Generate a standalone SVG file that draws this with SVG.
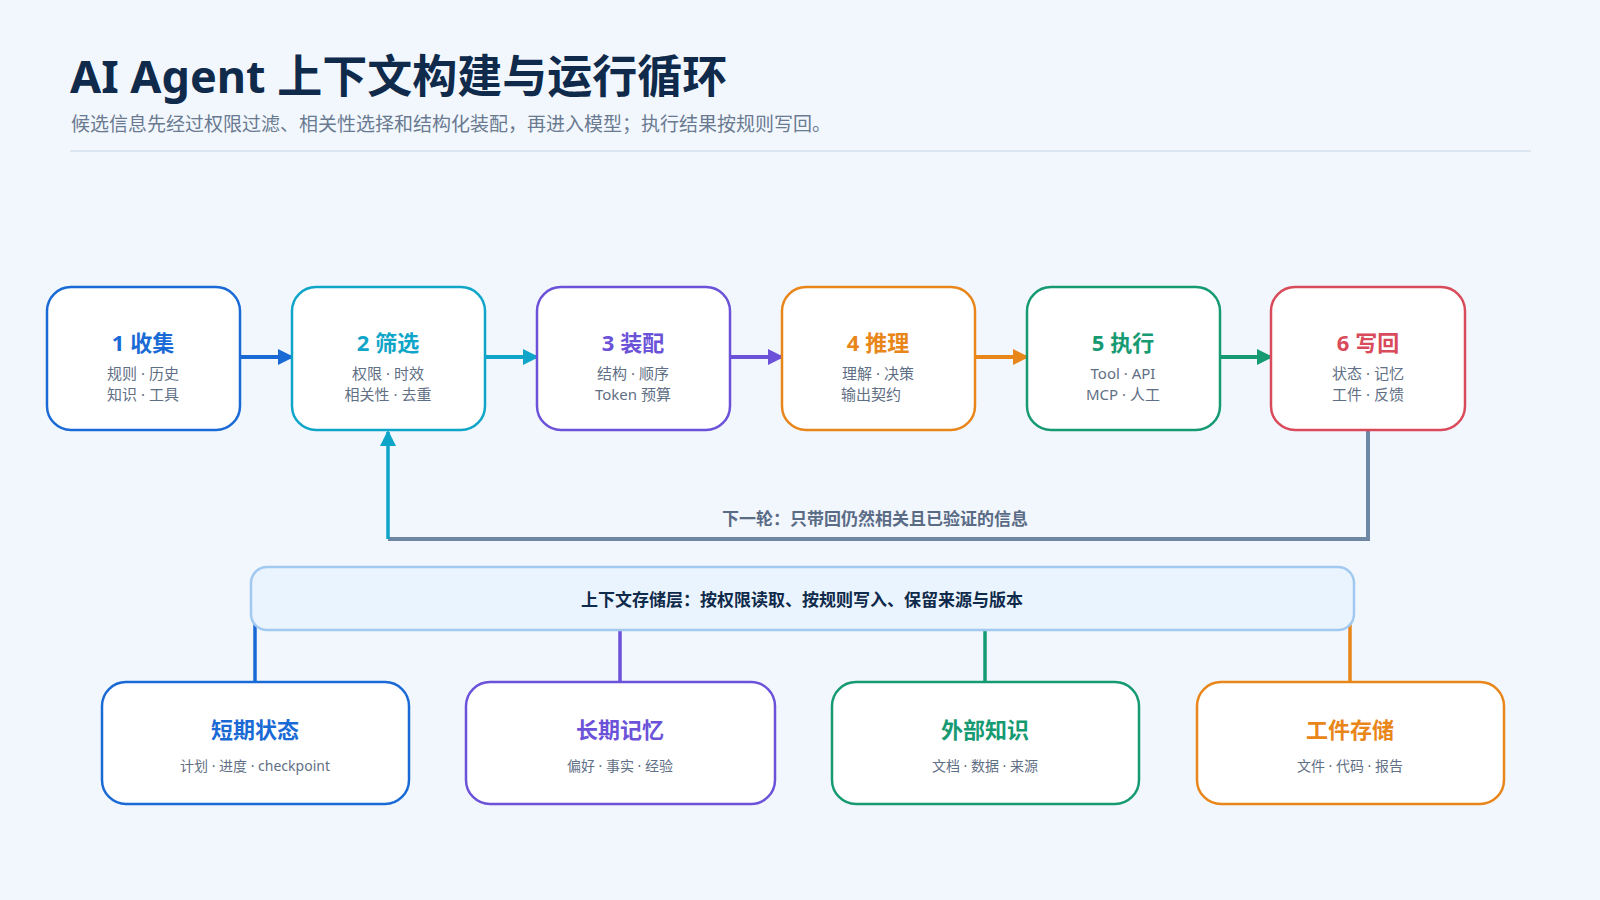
<svg xmlns="http://www.w3.org/2000/svg" width="1600" height="900" viewBox="0 0 1600 900">
<style>
text{font-family:"Noto Sans","Noto Sans CJK SC",sans-serif}
.t{font-size:22px;font-weight:700;text-anchor:middle}
.s{font-size:15px;fill:#5f6f85;text-anchor:middle}
.s2{font-size:14px;fill:#5f6f85;text-anchor:middle}
.n{fill:#fff;stroke-width:2.5}
.c{fill:none;stroke-width:4}
</style>
<defs>
<marker id="ab" markerWidth="10" markerHeight="10" refX="8" refY="5" orient="auto" markerUnits="userSpaceOnUse"><path d="M0,0L10,5L0,10z" fill="#1a6ad6"/></marker>
<marker id="ac" markerWidth="16" markerHeight="16" refX="14" refY="8" orient="auto" markerUnits="userSpaceOnUse"><path d="M0,0L16,8L0,16z" fill="#0ea5c8"/></marker>
<marker id="ap" markerWidth="16" markerHeight="16" refX="14" refY="8" orient="auto" markerUnits="userSpaceOnUse"><path d="M0,0L16,8L0,16z" fill="#6b52d8"/></marker>
<marker id="ao" markerWidth="16" markerHeight="16" refX="14" refY="8" orient="auto" markerUnits="userSpaceOnUse"><path d="M0,0L16,8L0,16z" fill="#e8861a"/></marker>
<marker id="ag" markerWidth="16" markerHeight="16" refX="14" refY="8" orient="auto" markerUnits="userSpaceOnUse"><path d="M0,0L16,8L0,16z" fill="#159a72"/></marker>
<marker id="abl" markerWidth="16" markerHeight="16" refX="14" refY="8" orient="auto" markerUnits="userSpaceOnUse"><path d="M0,0L16,8L0,16z" fill="#1a6ad6"/></marker>
</defs>
<rect width="1600" height="900" fill="#f2f7fe"/>
<text x="70" y="93" font-size="45" font-weight="700" fill="#0f2a4a">AI Agent 上下文构建与运行循环</text>
<text x="71" y="131" font-size="19" fill="#6a7a90">候选信息先经过权限过滤、相关性选择和结构化装配，再进入模型；执行结果按规则写回。</text>
<line x1="70" y1="151" x2="1531" y2="151" stroke="#d3e0ee" stroke-width="1.5"/>
<g id="connectors">
<path class="c" d="M240,357H292" stroke="#1a6ad6" marker-end="url(#abl)"/>
<path class="c" d="M485,357H537" stroke="#0ea5c8" marker-end="url(#ac)"/>
<path class="c" d="M730,357H782" stroke="#6b52d8" marker-end="url(#ap)"/>
<path class="c" d="M975,357H1027" stroke="#e8861a" marker-end="url(#ao)"/>
<path class="c" d="M1220,357H1271" stroke="#159a72" marker-end="url(#ag)"/>
<path class="c" d="M1368,430V539H388" stroke="#6e88a3" stroke-width="3.5"/>
<path d="M388,539V432" stroke="#0ea5c8" stroke-width="3.5" marker-end="url(#ac)"/>
<text x="875" y="525" font-size="17" font-weight="700" fill="#5a6b85" text-anchor="middle">下一轮：只带回仍然相关且已验证的信息</text>
<path d="M255,682V602" stroke="#1a6ad6" stroke-width="3.5" marker-end="url(#ab)"/>
<path d="M620,682V602" stroke="#6b52d8" stroke-width="3.5"/>
<path d="M985,682V602" stroke="#159a72" stroke-width="3.5"/>
<path d="M1350,682V602" stroke="#e8861a" stroke-width="3.5"/>
</g>
<g id="storage">
<rect x="251" y="567" width="1103" height="63" rx="16" fill="#eaf4fe" stroke="#a2c9f0" stroke-width="2.5"/>
<text x="802" y="606" font-size="17" font-weight="700" fill="#0f2a4a" text-anchor="middle">上下文存储层：按权限读取、按规则写入、保留来源与版本</text>
</g>
<g id="n1"><rect class="n" x="47" y="287" width="193" height="143" rx="24" stroke="#1a6ad6"/><text class="t" x="143" y="351" fill="#1a6ad6">1 收集</text><text class="s" x="143" y="379">规则 · 历史</text><text class="s" x="143" y="400">知识 · 工具</text></g>
<g id="n2"><rect class="n" x="292" y="287" width="193" height="143" rx="24" stroke="#0ea5c8"/><text class="t" x="388" y="351" fill="#0ea5c8">2 筛选</text><text class="s" x="388" y="379">权限 · 时效</text><text class="s" x="388" y="400">相关性 · 去重</text></g>
<g id="n3"><rect class="n" x="537" y="287" width="193" height="143" rx="24" stroke="#6b52d8"/><text class="t" x="633" y="351" fill="#6b52d8">3 装配</text><text class="s" x="633" y="379">结构 · 顺序</text><text class="s" x="633" y="400">Token 预算</text></g>
<g id="n4"><rect class="n" x="782" y="287" width="193" height="143" rx="24" stroke="#e8861a"/><text class="t" x="878" y="351" fill="#e8861a">4 推理</text><text class="s" x="878" y="379">理解 · 决策</text><text class="s" x="871" y="400">输出契约</text></g>
<g id="n5"><rect class="n" x="1027" y="287" width="193" height="143" rx="24" stroke="#159a72"/><text class="t" x="1123" y="351" fill="#159a72">5 执行</text><text class="s" x="1123" y="379">Tool · API</text><text class="s" x="1123" y="400">MCP · 人工</text></g>
<g id="n6"><rect class="n" x="1271" y="287" width="194" height="143" rx="24" stroke="#d94a5a"/><text class="t" x="1368" y="351" fill="#d94a5a">6 写回</text><text class="s" x="1368" y="379">状态 · 记忆</text><text class="s" x="1368" y="400">工件 · 反馈</text></g>
<g id="b1"><rect class="n" x="102" y="682" width="307" height="122" rx="24" stroke="#1a6ad6"/><text class="t" x="255" y="738" fill="#1a6ad6" font-size="20">短期状态</text><text class="s2" x="255" y="771">计划 · 进度 · checkpoint</text></g>
<g id="b2"><rect class="n" x="466" y="682" width="309" height="122" rx="24" stroke="#6b52d8"/><text class="t" x="620" y="738" fill="#6b52d8" font-size="20">长期记忆</text><text class="s2" x="620" y="771">偏好 · 事实 · 经验</text></g>
<g id="b3"><rect class="n" x="832" y="682" width="307" height="122" rx="24" stroke="#159a72"/><text class="t" x="985" y="738" fill="#159a72" font-size="20">外部知识</text><text class="s2" x="985" y="771">文档 · 数据 · 来源</text></g>
<g id="b4"><rect class="n" x="1197" y="682" width="307" height="122" rx="24" stroke="#e8861a"/><text class="t" x="1350" y="738" fill="#e8861a" font-size="20">工件存储</text><text class="s2" x="1350" y="771">文件 · 代码 · 报告</text></g>
</svg>
